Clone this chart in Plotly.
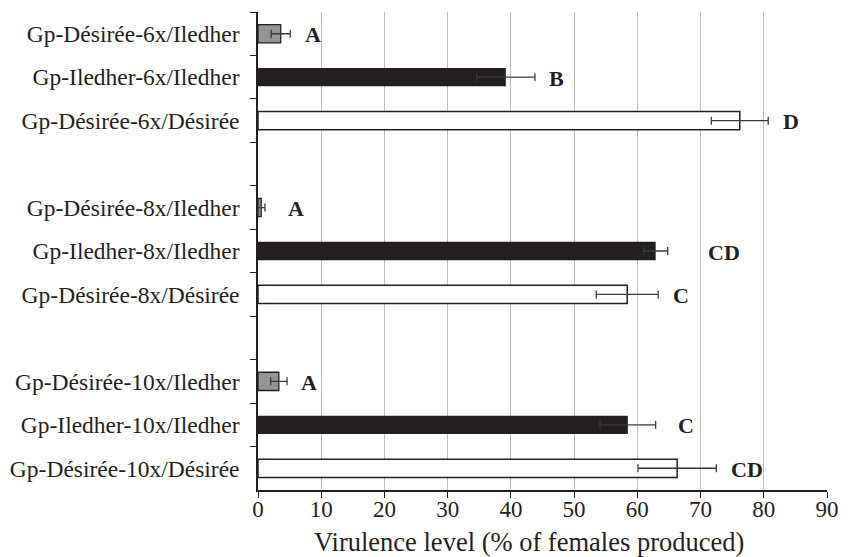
import plotly.graph_objects as go

# ---- data ----
categories = [
    "Gp-Désirée-6x/Iledher", "Gp-Iledher-6x/Iledher", "Gp-Désirée-6x/Désirée",
    " ",
    "Gp-Désirée-8x/Iledher", "Gp-Iledher-8x/Iledher", "Gp-Désirée-8x/Désirée",
    "  ",
    "Gp-Désirée-10x/Iledher", "Gp-Iledher-10x/Iledher", "Gp-Désirée-10x/Désirée",
]

gray_cats = ["Gp-Désirée-6x/Iledher", "Gp-Désirée-8x/Iledher", "Gp-Désirée-10x/Iledher"]
gray_vals = [3.6, 0.5, 3.3]
gray_err = [1.5, 0.6, 1.3]
gray_letters = ["A", "A", "A"]

black_cats = ["Gp-Iledher-6x/Iledher", "Gp-Iledher-8x/Iledher", "Gp-Iledher-10x/Iledher"]
black_vals = [39.2, 62.9, 58.5]
black_err = [4.6, 1.9, 4.4]
black_letters = ["B", "CD", "C"]

white_cats = ["Gp-Désirée-6x/Désirée", "Gp-Désirée-8x/Désirée", "Gp-Désirée-10x/Désirée"]
white_vals = [76.2, 58.4, 66.3]
white_err = [4.5, 4.9, 6.2]
white_letters = ["D", "C", "CD"]

x_ticks = [0, 10, 20, 30, 40, 50, 60, 70, 80, 90]
x_title = "Virulence level (% of females produced)"

# letter pixel gaps (style)
gray_gaps = [13, 21, 12]
black_gaps = [12, 38, 20]
white_gaps = [13, 13, 13]

FONT = "Liberation Serif"
BAR_W = 0.42

fig = go.Figure()

def add_series(cats, vals, errs, fill, line_w):
    fig.add_trace(go.Bar(
        y=cats, x=vals, orientation="h", width=BAR_W,
        marker=dict(color=fill, line=dict(color="#231f20", width=line_w)),
        error_x=dict(type="data", array=errs, visible=True,
                     color="#3a3a3a", thickness=1.3, width=4),
        showlegend=False, hoverinfo="skip",
    ))

add_series(gray_cats, gray_vals, gray_err, "#949494", 1.3)
add_series(black_cats, black_vals, black_err, "#231f20", 0)
add_series(white_cats, white_vals, white_err, "#ffffff", 1.5)

for cats, vals, errs, letters, gaps in [
    (gray_cats, gray_vals, gray_err, gray_letters, gray_gaps),
    (black_cats, black_vals, black_err, black_letters, black_gaps),
    (white_cats, white_vals, white_err, white_letters, white_gaps),
]:
    for c, v, e, l, g in zip(cats, vals, errs, letters, gaps):
        fig.add_annotation(
            x=v + e, y=c, text=f"<b>{l}</b>", showarrow=False,
            xanchor="left", yanchor="middle", xshift=g, yshift=-1,
            font=dict(family=FONT, size=22, color="#231f20"),
        )

# axis title (placed as paper annotation to match reference offset)
fig.add_annotation(
    x=0.477, y=-0.109, xref="paper", yref="paper", text=x_title,
    showarrow=False, xanchor="center", yanchor="middle",
    font=dict(family=FONT, size=26.5, color="#231f20"),
)

fig.update_layout(
    width=852, height=557,
    margin=dict(l=258, r=25, t=12, b=67, autoexpand=False),
    paper_bgcolor="white", plot_bgcolor="white",
    barmode="overlay",
    font=dict(family=FONT, color="#231f20"),
)

fig.update_xaxes(
    range=[0, 90], tickvals=x_ticks, ticktext=[str(t) for t in x_ticks],
    automargin=False,
    showgrid=True, gridcolor="#bdbdbd", gridwidth=1.2,
    showline=True, linecolor="#231f20", linewidth=1.5,
    ticks="outside", ticklen=6, tickcolor="#231f20", tickwidth=1.3,
    tickfont=dict(family=FONT, size=23),
    ticklabelstandoff=-8,
    zeroline=False,
)

fig.update_yaxes(
    type="category", categoryorder="array", categoryarray=categories,
    range=[10.5, -0.5], automargin=False,
    showgrid=False, zeroline=False,
    showline=True, linecolor="#231f20", linewidth=1.5,
    ticks="outside", ticklen=6, tickcolor="#231f20", tickwidth=1.3,
    tickson="boundaries",
    tickfont=dict(family=FONT, size=23.5),
    ticklabelstandoff=12,
)

fig.write_html(
    "out.html",
    config={"displayModeBar": False},
    post_script="document.body.style.margin='0';document.body.style.overflow='hidden';",
)
